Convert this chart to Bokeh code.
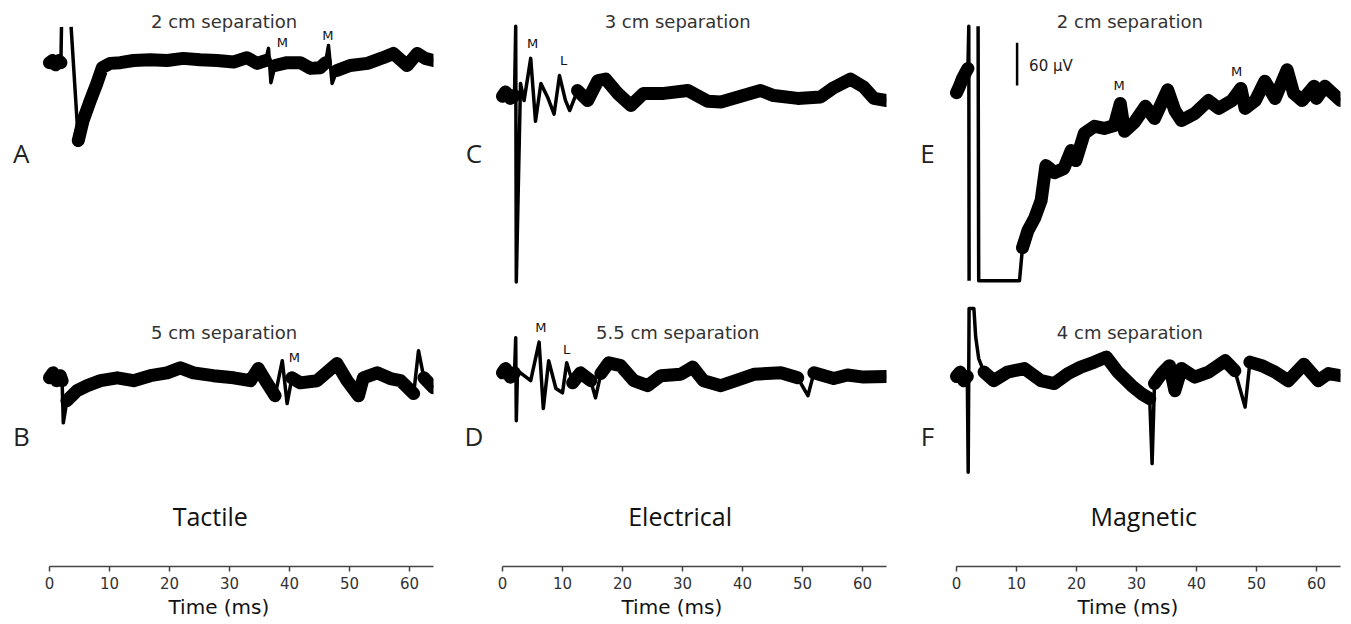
import math
from bokeh.plotting import figure
from bokeh.layouts import row
from bokeh.models import Range1d, Label, FixedTicker, Title
from bokeh.embed import file_html
from bokeh.resources import INLINE

nan = float("nan")

# ---------------- data (time in ms, potential in µV relative to each trace's baseline) -------------
TICKS = [0, 10, 20, 30, 40, 50, 60]
T_MAX = 64
SCALE_UV = 60

# Tactile, 2 cm separation (A)
A_T = [0.0, 0.5, 1.0, 1.5, 1.9, 2.0, 2.8, 3.6, 4.8, 5.6, 6.8, 7.9, 8.8, 10.1, 11.8, 14.0, 16.8, 19.6,
       22.3, 25.1, 27.9, 30.7, 32.9, 34.6, 36.0, 36.5, 36.9, 37.6, 39.6, 41.8, 43.5, 45.1, 46.0, 46.5,
       47.1, 47.9, 50.1, 53.0, 55.6, 57.3, 59.6, 61.3, 62.6, 64.0]
A_V = [0, 3, -3, 3, 0, 50, nan, 50, -109, -81, -53, -29, -7, -1, 0, 3, 4, 3,
       6, 4, 3, 1, 7, -1, 3, 20, -28, -4, 0, 0, -8, -7, 0, 24,
       -29, -11, -4, -1, 7, 13, -4, 13, 6, 3]

# Tactile, 5 cm separation (B)
B_T = [0.0, 0.6, 1.2, 1.8, 2.1, 2.3, 2.9, 4.6, 6.3, 8.5, 11.3, 14.0, 16.8, 19.6, 21.8, 24.0, 27.3,
       30.7, 33.5, 34.8, 36.3, 37.6, 38.8, 39.6, 40.4, 41.8, 44.6, 47.9, 49.6, 51.5, 52.3, 54.6, 56.8,
       58.5, 60.7, 61.5, 62.4, 64.0]
B_V = [0, 7, -4, 3, -4, -63, -32, -18, -11, -4, 0, -4, 3, 7, 14, 7, 3,
       0, -4, 13, -8, -25, 24, -36, 0, -7, -4, 20, -4, -25, 0, 7, -1,
       -4, -22, 38, 0, -14]

# Electrical, 3 cm separation (C)
C_T = [0.0, 0.5, 1.3, 2.0, 2.2, 2.3, 3.0, 3.6, 4.7, 5.5, 6.4, 7.5, 8.6, 9.5, 10.5, 11.2, 12.5, 14.2,
       15.9, 17.2, 19.2, 21.4, 23.5, 26.9, 30.9, 34.2, 36.4, 39.7, 43.0, 45.2, 49.2, 53.0, 55.2, 58.0,
       60.2, 61.9, 64.0]
C_V = [0, 6, -3, 1, 98, -260, 18, -6, 53, -35, 18, -1, -25, 29, -6, -20, 8, -6,
       22, 24, 4, -13, 4, 4, 8, -7, -8, 0, 8, 1, -3, -1, 12, 24,
       13, -3, -6]

# Electrical, 5.5 cm separation (D)
D_T = [0.0, 0.5, 1.3, 2.0, 2.2, 2.3, 2.5, 4.7, 6.1, 6.8, 7.7, 8.9, 10.0, 10.7, 11.7, 13.0, 14.7, 15.5,
       16.4, 17.7, 19.7, 21.9, 24.2, 26.4, 29.7, 31.7, 33.5, 36.4, 38.5, 41.9, 46.4, 49.2, 50.9, 51.9,
       55.2, 57.5, 60.2, 64.0]
D_V = [0, 6, -6, 0, 49, -67, 3, -11, 43, -50, 17, -22, -28, 14, -14, 0, -11, -35,
       -1, 14, 10, -11, -18, -4, -2, 8, -11, -18, -12, -2, 0, -7, -32, 0,
       -8, -3, -6, -5]

# Magnetic, 2 cm separation (E)
E_T = [0.0, 0.5, 1.0, 1.5, 1.9, 2.05, 2.1, 2.8, 3.6, 3.7, 10.5, 11.0, 11.9, 13.0, 14.1, 14.9, 15.5,
       16.3, 17.9, 19.1, 19.9, 21.3, 23.0, 24.6, 26.3, 27.3, 28.0, 29.6, 31.5, 33.0, 35.2, 36.4, 37.5,
       39.7, 42.0, 43.7, 45.9, 47.4, 48.1, 49.8, 51.4, 53.1, 55.1, 56.2, 57.6, 59.6, 60.0, 61.4, 64.0]
E_V = [-17, -8, 3, 11, 17, 76, -280, nan, 76, -280, -280, -234, -210, -193, -168, -119, -123,
       -129, -123, -98, -112, -74, -64, -67, -63, -32, -71, -59, -36, -53, -13, -42, -56,
       -46, -28, -39, -28, -11, -39, -28, -1, -25, 15, -18, -28, -8, -25, -8, -28]

# Magnetic, 4 cm separation (F)
F_T = [0.0, 0.6, 1.2, 1.8, 1.95, 2.1, 2.9, 3.2, 3.7, 4.6, 6.2, 8.5, 11.3, 14.1, 16.3, 18.6, 20.7,
       23.0, 25.0, 26.9, 29.2, 30.8, 32.2, 32.6, 33.0, 34.2, 35.5, 36.4, 37.5, 39.7, 42.0, 44.8, 46.4,
       48.1, 48.9, 50.9, 53.1, 55.3, 57.9, 60.3, 62.0, 64.0]
F_V = [0, 6, -6, 0, -134, 95, 95, 55, 25, 6, -6, 6, 11, -6, -10, 4, 13,
       20, 27, 6, -13, -24, -31, -122, -10, 4, 15, -20, 11, -1, 6, 22, 8,
       -43, 20, 15, 6, -6, 17, -6, 4, 1]

# time windows drawn as a thin line only (stimulus artefacts, sharp spikes)
A_THIN = [(1.95, 4.7), (36.3, 37.0), (46.3, 47.2)]
B_THIN = [(2.2, 2.5), (38.7, 39.7), (61.4, 61.6)]
C_THIN = [(2.1, 11.3)]
D_THIN = [(2.1, 11.0), (15.4, 15.6), (50.8, 51.0)]
E_THIN = [(2.0, 10.6)]
F_THIN = [(1.9, 3.8), (32.5, 32.7), (48.0, 48.2)]

TITLES = ["2 cm separation", "5 cm separation", "3 cm separation", "5.5 cm separation",
          "2 cm separation", "4 cm separation"]
PANEL_LETTERS = ["A", "B", "C", "D", "E", "F"]
MODALITIES = ["Tactile", "Electrical", "Magnetic"]
X_LABEL = "Time (ms)"

# ---------------- layout constants ----------------
Y_MIN, Y_MAX = -792, 0
OFF = {"A": -87, "B": -528, "C": -134, "D": -521, "E": -112, "F": -526}
TITLE_FONT = "DejaVu Sans"
SANS = "Open Sans"


def make_fig(width, right, t_start, xlabel_offset):
    p = figure(width=width, height=624, x_range=Range1d(t_start, T_MAX), y_range=Range1d(Y_MIN, Y_MAX),
               output_backend="svg", toolbar_location=None, y_axis_location=None,
               min_border_left=0, min_border_right=right, min_border_top=0, min_border_bottom=58)
    p.grid.visible = False
    p.outline_line_color = None
    p.background_fill_color = "white"
    p.border_fill_color = "white"
    ax = p.xaxis[0]
    ax.bounds = (0, T_MAX)
    ax.ticker = FixedTicker(ticks=TICKS)
    ax.major_label_text_font = TITLE_FONT
    ax.major_label_text_font_size = "15px"
    ax.major_label_text_color = "#333333"
    ax.major_label_standoff = 5
    ax.major_tick_in = 0
    ax.major_tick_out = 5
    ax.minor_tick_in = 0
    ax.minor_tick_out = 0
    ax.axis_line_color = "#444444"
    ax.axis_line_width = 1.5
    ax.major_tick_line_color = "#444444"
    ax.major_tick_line_width = 1.5
    p.add_layout(Title(text=X_LABEL, align="left", offset=xlabel_offset, text_font=TITLE_FONT,
                       text_font_size="20px", text_font_style="normal", text_color="#111111",
                       standoff=2), "below")
    return p


def draw_trace(p, t, v, off, thin_windows):
    y = [off + vi for vi in v]
    p.line(t, y, line_color="black", line_width=3.5, line_join="round")
    y2 = [nan if any(a <= ti <= b for a, b in thin_windows) else yi for ti, yi in zip(t, y)]
    p.line(t, y2, line_color="black", line_width=13, line_join="round", line_cap="round")


def lab(p, x, y, text, size, font=TITLE_FONT, color="#333333", align="center"):
    p.add_layout(Label(x=x, y=y, text=text, text_font=font, text_font_size=size,
                       text_color=color, text_align=align, text_baseline="middle"))


# 6 px per ms in every column; frames reach left to the figure edge so panel letters fit
p1 = make_fig(455, 22, T_MAX - 433 / 6, 168)
p2 = make_fig(451, 20, T_MAX - 431 / 6, 166)
p3 = make_fig(445, 11, T_MAX - 434 / 6, 171)

draw_trace(p1, A_T, A_V, OFF["A"], A_THIN)
draw_trace(p1, B_T, B_V, OFF["B"], B_THIN)
draw_trace(p2, C_T, C_V, OFF["C"], C_THIN)
draw_trace(p2, D_T, D_V, OFF["D"], D_THIN)
draw_trace(p3, E_T, E_V, OFF["E"], E_THIN)
draw_trace(p3, F_T, F_V, OFF["F"], F_THIN)

# scale bar
SB_T, SB_TOP = 10.1, -59
p3.segment(x0=[SB_T], y0=[SB_TOP], x1=[SB_T], y1=[SB_TOP - SCALE_UV], line_color="black", line_width=2.5)
lab(p3, 12.1, -92, "60 µV", "15px", color="#222222", align="left")

figs = [p1, p2, p3]
title_x = [29.1, 29.2, 28.9]
mod_x = [26.8, 29.6, 31.2]
letter_x = [-4.7, -4.75, -4.85]
for i, p in enumerate(figs):
    lab(p, title_x[i], -29, TITLES[2 * i], "18px")
    lab(p, title_x[i], -465, TITLES[2 * i + 1], "18px")
    lab(p, letter_x[i], -213, PANEL_LETTERS[2 * i], "26px", font=SANS, color="#222222")
    lab(p, letter_x[i], -609, PANEL_LETTERS[2 * i + 1], "26px", font=SANS, color="#222222")
    lab(p, mod_x[i], -721, MODALITIES[i], "25px", font=SANS, color="#111111")

# peak markers
lab(p1, 38.8, -59, "M", "13px", color="#111111")
lab(p1, 46.4, -49, "M", "13px", color="#111111")
lab(p1, 40.8, -500, "M", "13px", color="#111111")
lab(p2, 5.0, -60, "M", "13px", color="#111111")
lab(p2, 10.2, -84, "L", "13px", color="#111111")
lab(p2, 6.4, -458, "M", "13px", color="#111111")
lab(p2, 10.7, -489, "L", "13px", color="#111111")
lab(p3, 27.1, -119, "M", "13px", color="#111111")
lab(p3, 46.7, -99, "M", "13px", color="#111111")

layout = row(p1, p2, p3, spacing=0)
open("out.html", "w").write(file_html(layout, INLINE))
